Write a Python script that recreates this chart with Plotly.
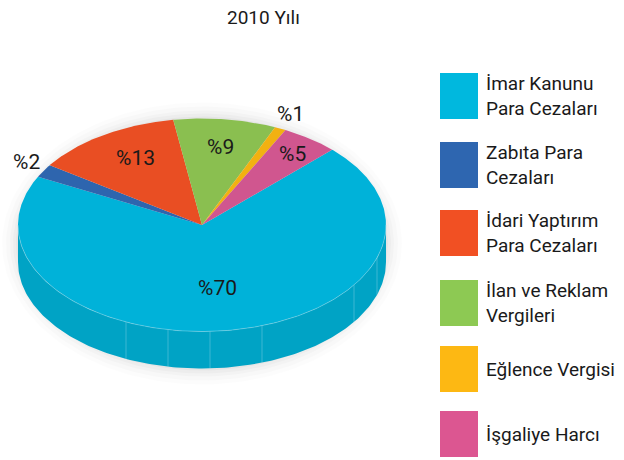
import numpy as np
import plotly.graph_objects as go

title = "2010 Yılı"
categories = ["İmar Kanunu<br>Para Cezaları", "Zabıta Para<br>Cezaları", "İdari Yaptırım<br>Para Cezaları",
              "İlan ve Reklam<br>Vergileri", "Eğlence Vergisi", "İşgaliye Harcı"]
shares = [70, 2, 13, 9, 1, 5]
slice_colors = ["#00B2D9", "#2E65AE", "#E94E23", "#8ABF50", "#F2B111", "#D0568F"]
legend_colors = ["#00B8DE", "#2E66B0", "#F15023", "#8DC953", "#FDB813", "#DC5691"]
side_color = "#00A3C5"
wall_seam_x = [126, 168, 210, 262, 354, 377]
label_xy = [(217, 288), (26, 162), (135, 158), (220, 147), (290, 114), (292, 154)]
legend_top = [73, 142, 210, 280, 346, 411]

CX, CY, RX, RY, DEPTH = 202, 225, 184, 106.5, 37
START_DEG = 45
FONT = "Roboto"

fig = go.Figure()


def add_poly(x, y, color, line=None, width=0):
    fig.add_trace(go.Scatter(x=x, y=y, mode="lines", fill="toself", fillcolor=color,
                             line=dict(color=line or "rgba(0,0,0,0)", width=width),
                             hoverinfo="skip", showlegend=False))


# soft shadow
for grow, alpha in [(16, .012), (12, .016), (8, .02), (5, .025), (2, .03)]:
    t = np.linspace(0, 2 * np.pi, 181)
    add_poly(CX + (RX + grow) * np.cos(t), CY + DEPTH / 2 + (RY + DEPTH / 2 + grow) * np.sin(t),
             f"rgba(0,0,0,{alpha})")

# side wall
t = np.linspace(0, np.pi, 181)
wx = CX + RX * np.cos(t)
wy = CY + RY * np.sin(t)
add_poly(np.r_[wx, wx[::-1]], np.r_[wy, wy[::-1] + DEPTH], side_color)

# seams on the wall
for sx in wall_seam_x:
    sy = CY + RY * np.sqrt(1 - ((sx - CX) / RX) ** 2)
    fig.add_trace(go.Scatter(x=[sx, sx], y=[sy, sy + DEPTH], mode="lines",
                             line=dict(color="rgba(190,230,240,0.4)", width=0.8),
                             hoverinfo="skip", showlegend=False))

# top sectors, clockwise on screen from START_DEG
ang = START_DEG
for share, color in zip(shares, slice_colors):
    sweep = share / sum(shares) * 360
    a = np.radians(np.linspace(ang, ang - sweep, max(int(sweep * 2), 4)))
    x = np.r_[CX, CX + RX * np.cos(a), CX]
    y = np.r_[CY, CY - RY * np.sin(a), CY]
    add_poly(x, y, color)
    ang -= sweep

# rim highlight on the front edge
t = np.linspace(0, np.pi, 181)
fig.add_trace(go.Scatter(x=CX + RX * np.cos(t), y=CY + RY * np.sin(t), mode="lines",
                         line=dict(color="rgba(150,220,235,0.6)", width=0.8),
                         hoverinfo="skip", showlegend=False))

annotations = [dict(x=263, y=17, text=title, showarrow=False, xanchor="center", yanchor="middle",
                    font=dict(family=FONT, size=19, color="#1a1a1a"))]
for share, (lx, ly) in zip(shares, label_xy):
    annotations.append(dict(x=lx, y=ly, text=f"%{share}", showarrow=False, xanchor="center", yanchor="middle",
                            font=dict(family=FONT, size=21, color="#1a1a1a")))

shapes = []
for cat, col, top in zip(categories, legend_colors, legend_top):
    shapes.append(dict(type="rect", x0=440, x1=478, y0=top, y1=top + 46, xref="x", yref="y",
                       fillcolor=col, line=dict(width=0), layer="above"))
    annotations.append(dict(x=484, y=top + 23, text=cat, showarrow=False, xanchor="left", yanchor="middle",
                            align="left", font=dict(family=FONT, size=19, color="#1a1a1a")))

fig.update_layout(
    width=624, height=460, margin=dict(l=0, r=0, t=0, b=0),
    paper_bgcolor="white", plot_bgcolor="white", showlegend=False,
    xaxis=dict(range=[0, 624], visible=False, fixedrange=True),
    yaxis=dict(range=[460, 0], visible=False, fixedrange=True),
    annotations=annotations, shapes=shapes,
)
fig.write_html("out.html", config=dict(displayModeBar=False),
               post_script="document.body.style.margin='0';document.body.style.overflow='hidden';")
